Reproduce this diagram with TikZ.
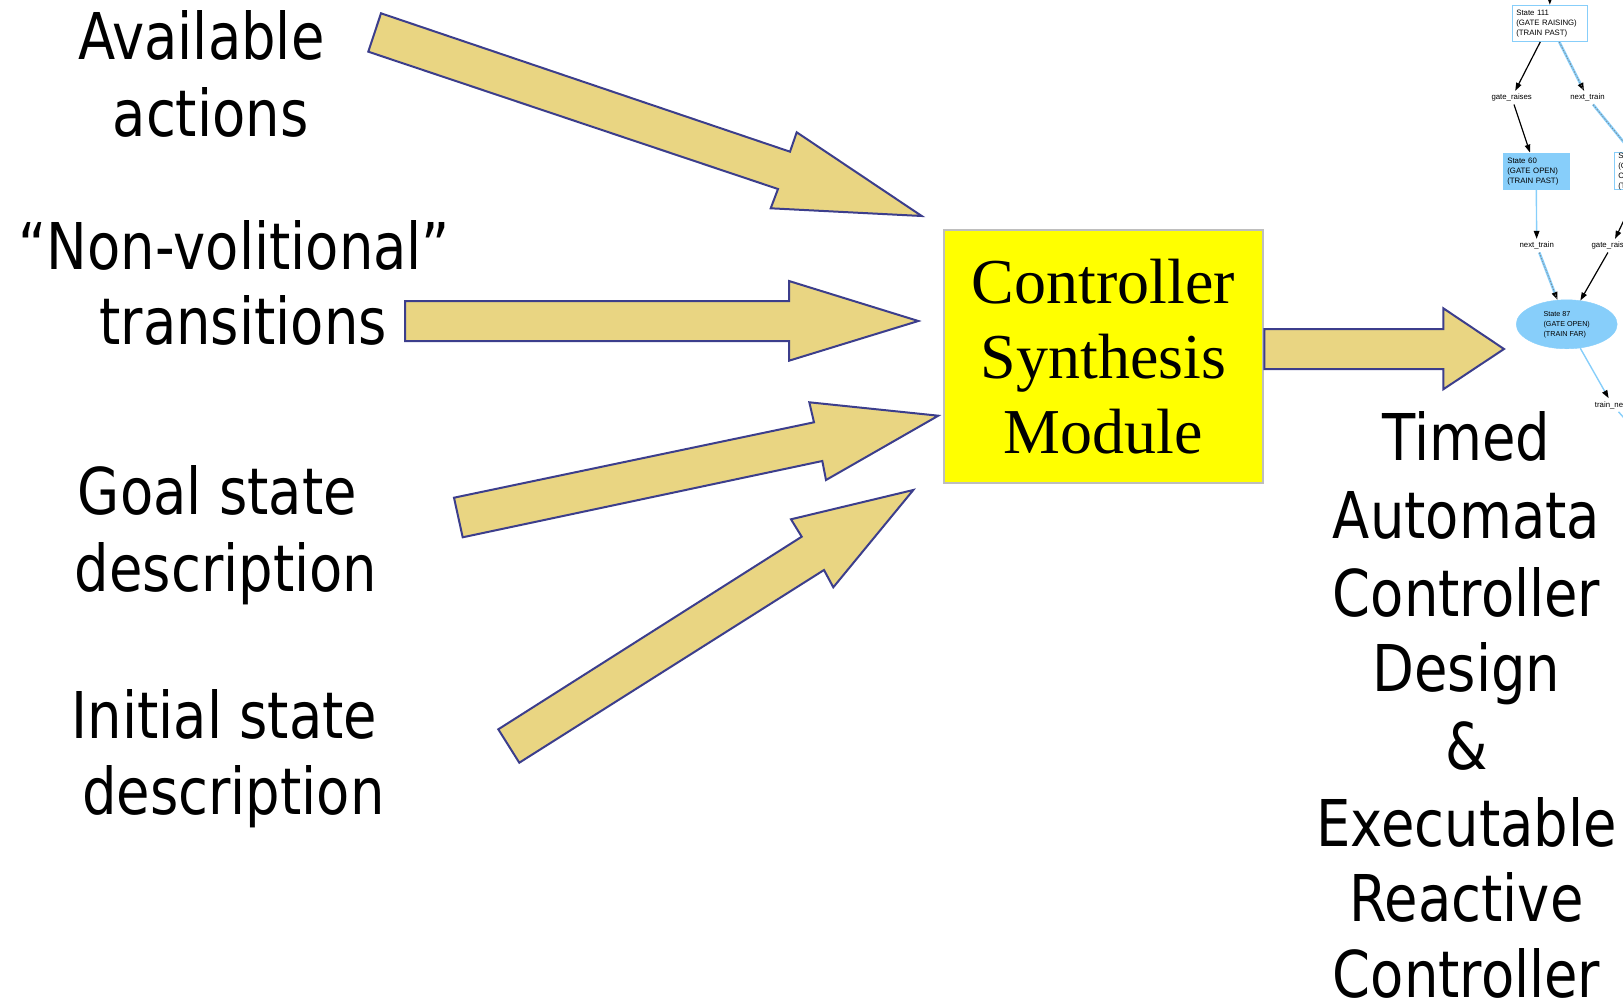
\documentclass[tikz,border=0pt]{standalone}
\usepackage{fontspec}
\setmainfont{Liberation Serif}
\newfontfamily\labelfont[FakeStretch=0.843]{DejaVu Sans}
\newfontfamily\graphfont{Liberation Sans}
\usetikzlibrary{arrows.meta,shapes.geometric}

\definecolor{arrowfill}{RGB}{233,213,130}
\definecolor{arrowline}{RGB}{60,62,140}
\definecolor{boxline}{RGB}{190,190,190}
\definecolor{modfill}{RGB}{255,255,0}
\definecolor{lblue}{RGB}{135,206,250}

\begin{document}
\begin{tikzpicture}[x=1pt,y=-1pt,
  blockarrow/.style={fill=arrowfill, draw=arrowline, line width=2pt, line join=miter},
  lbl/.style={font=\labelfont\fontsize{64.5}{77}\selectfont, inner sep=0pt, anchor=base},
  module/.style={draw=boxline, line width=2.5pt, fill=modfill, minimum width=319pt,
    minimum height=253pt, inner sep=0pt, align=center,
    font=\fontsize{64}{75.3}\selectfont},
  statebox/.style={draw=lblue, line width=1.2pt, inner xsep=4pt, inner ysep=0pt,
    align=left, minimum height=36pt,
    font=\graphfont\fontsize{7.8}{10}\selectfont},
  stateell/.style={ellipse, fill=lblue, draw=lblue, inner sep=0pt,
    minimum width=101pt, minimum height=49pt, align=left,
    font=\graphfont\fontsize{7.2}{10}\selectfont},
  evt/.style={inner sep=3pt, font=\graphfont\fontsize{7.8}{9}\selectfont},
  tip/.style={-{Triangle[length=8pt,width=5.5pt,color=black]}},
  ctrl/.style={tip, draw=black, line width=1.2pt},
  env/.style={tip, draw=lblue, line width=1.4pt},
  envdash/.style={tip, draw=lblue, line width=2.6pt,
    postaction={draw=gray, line width=0.6pt, dash pattern=on 1.5pt off 1.5pt, -}}
]
\useasboundingbox (0,0) rectangle (1623,1006);

% ---- input labels ----
\node[lbl] (avail1) at (201.3,60)  {Available};
\node[lbl] (avail2) at (210.6,136.6) {actions};
\node[lbl] (nonvol1) at (234.4,269) {“Non-volitional”};
\node[lbl] (nonvol2) at (243.2,344.7) {transitions};
\node[lbl] (goal1) at (217.4,514) {Goal state};
\node[lbl] (goal2) at (226.1,591) {description};
\node[lbl] (init1) at (224.6,738) {Initial state};
\node[lbl] (init2) at (233.4,814.5) {description};

% ---- synthesis module ----
\node[module] (csm) at (1103.5,356.5) {Controller\\Synthesis\\Module};

% ---- block arrows into and out of the module ----
\draw[blockarrow] (381,13.3) -- (790,151.7) -- (796.7,132.3) -- (921.7,216)
  -- (770.7,208.3) -- (778,189) -- (368.3,51.7) -- cycle;
\draw[blockarrow] (405,301) -- (789,301) -- (789,281) -- (918.3,321)
  -- (789,360.7) -- (789,341) -- (405,341) -- cycle;
\draw[blockarrow] (454,497.7) -- (814,422.3) -- (809.3,402.3) -- (938.3,415.7)
  -- (826,480) -- (822.3,461) -- (462.7,537.3) -- cycle;
\draw[blockarrow] (498.3,729.3) -- (801.7,536.7) -- (791,519.3) -- (913.3,490)
  -- (833.3,587.3) -- (824,570) -- (519.3,762.7) -- cycle;
\draw[blockarrow] (csm.east |- 0,329) -- (1443.3,329) -- (1443.3,308.3) -- (1504,349)
  -- (1443.3,389.3) -- (1443.3,369) -- (csm.east |- 0,369) -- cycle;

% ---- output label ----
\node[lbl] (out1) at (1466.5,460.6) {Timed};
\node[lbl] (out2) at (1466.5,538) {Automata};
\node[lbl] (out3) at (1466.5,616) {Controller};
\node[lbl] (out4) at (1466.5,691) {Design};
\node[lbl] (out5) at (1466.5,769) {\&};
\node[lbl] (out6) at (1466.5,846) {Executable};
\node[lbl] (out7) at (1466.5,921) {Reactive};
\node[lbl] (out8) at (1466.5,997) {Controller};

% ---- generated timed automaton (excerpt) ----
\begin{scope}
\clip (1400,0) rectangle (1623,430);
\node[statebox, fill=white, minimum width=75pt, text width=67pt] (s111) at (1549.8,23.3)
  {State 111\\(GATE RAISING)\\(TRAIN PAST)};
\node[statebox, fill=lblue, minimum width=65.7pt, text width=57.7pt] (s60) at (1536.2,171.2)
  {State 60\\(GATE OPEN)\\(TRAIN PAST)};
\node[statebox, fill=white, minimum width=66pt, text width=58pt] (s61) at (1647.3,171.2)
  {State 61\\(GATE CLOSED)\\(TRAIN PAST)};
\node[stateell] (s87) at (1566.7,324.3) {State 87\\(GATE OPEN)\\(TRAIN FAR)};

\node[evt] (gr1) at (1511.7,97.7) {gate\_raises};
\node[evt] (nt1) at (1587.5,97.7) {next\_train};
\node[evt] (nt2) at (1536.7,245.7) {next\_train};
\node[evt] (gr2) at (1611.8,245.7) {gate\_raises};
\node[evt] (tn) at (1612.5,405) {train\_near};

\coordinate (from111) at (1549.8,-30);
\coordinate (totn) at (1670,470);

\draw[ctrl] (from111) -- (s111);
\draw[ctrl] (s111) -- (gr1);
\draw[envdash] (s111) -- (nt1);
\draw[ctrl] (gr1) -- (s60);
\draw[envdash] (nt1) -- (s61);
\draw[env] (s60) -- (nt2);
\draw[ctrl] (s61) -- (gr2);
\draw[envdash] (nt2) -- (s87);
\draw[ctrl] (gr2) -- (s87);
\draw[env] (s87) -- (tn);
\draw[env] (tn) -- (totn);
\end{scope}
\end{tikzpicture}
\end{document}
